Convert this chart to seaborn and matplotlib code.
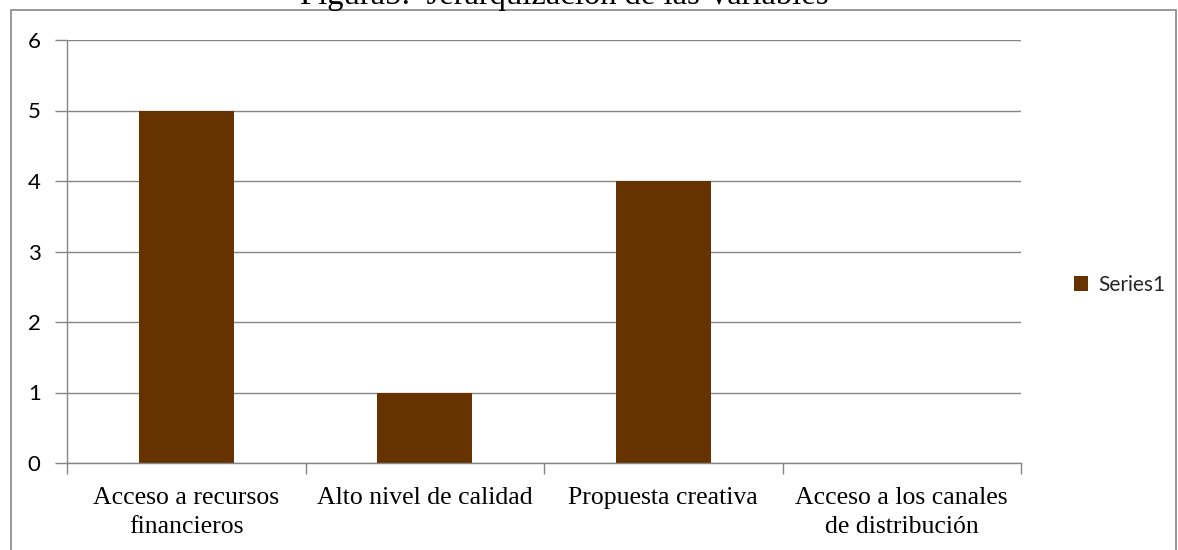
import matplotlib
matplotlib.use("Agg")
import matplotlib.pyplot as plt
import seaborn as sns
import pandas as pd
from matplotlib.patches import Rectangle, Patch
from matplotlib.ticker import FixedLocator

categories = ["Acceso a recursos\nfinancieros", "Alto nivel de calidad",
              "Propuesta creativa", "Acceso a los canales\nde distribución"]
values = [5, 1, 4, 0]
series_name = "Series1"
title = "Figura5:  Jerarquización de las Variables"
yticks = [0, 1, 2, 3, 4, 5, 6]

sns.set_theme(style="white")
plt.rcParams['font.family'] = ['Liberation Serif', 'DejaVu Sans']

W, H = 1178, 550
fig = plt.figure(figsize=(W / 100, H / 100), dpi=100)
ax = fig.add_axes([67 / W, 1 - 463 / H, (1021 - 67) / W, (463 - 40) / H])

df = pd.DataFrame({"cat": categories, "val": values})
sns.barplot(data=df, x="cat", y="val", ax=ax, color="#663300", width=0.4,
            saturation=1, edgecolor="none", linewidth=0)

gray = "#868686"
ax.set_xlim(-0.5, len(categories) - 0.5)
ax.set_ylim(0, 6)
ax.set_yticks(yticks)
ax.set_yticklabels([str(t) for t in yticks], fontfamily="Lato", fontsize=16)
ax.yaxis.grid(True, color=gray, linewidth=1)
ax.set_axisbelow(True)
ax.set_xlabel("")
ax.set_ylabel("")
for s in ["top", "right"]:
    ax.spines[s].set_visible(False)
for s in ["left", "bottom"]:
    ax.spines[s].set_color(gray)
    ax.spines[s].set_linewidth(1)

ax.tick_params(axis="y", which="major", length=9, width=1, color=gray, direction="out",
               pad=10, labelcolor="black", left=True)
ax.tick_params(axis="x", which="major", length=0, pad=17, labelsize=18.5, labelcolor="black")
ax.xaxis.set_minor_locator(FixedLocator([i - 0.5 for i in range(len(categories) + 1)]))
ax.tick_params(axis="x", which="minor", length=8, width=1, color=gray, direction="out", bottom=True)
for lab in ax.get_xticklabels():
    lab.set_fontfamily("Liberation Serif")
    lab.set_multialignment("center")
    lab.set_linespacing(1.45)

# Outer chart border
fig.patches.append(Rectangle((11 / W, -0.05), (1176 - 11) / W, 1 - 10 / H + 0.05,
                             transform=fig.transFigure, fill=False,
                             edgecolor=gray, linewidth=1.2))

# Title (partly cut at top as in the reference)
fig.text(564 / W, 1 - 4 / H, title, ha="center", va="baseline", fontsize=23.5,
         fontfamily="Liberation Serif", color="black")

handles = [Patch(facecolor="#663300", edgecolor="none")]
fig.legend(handles, [series_name], loc="center left",
           bbox_to_anchor=(1055 / W, 1 - 285 / H), frameon=False,
           prop={"family": "Lato", "size": 15}, handlelength=0.7,
           handleheight=0.7, handletextpad=0.5)

fig.savefig("out.png", dpi=100)
